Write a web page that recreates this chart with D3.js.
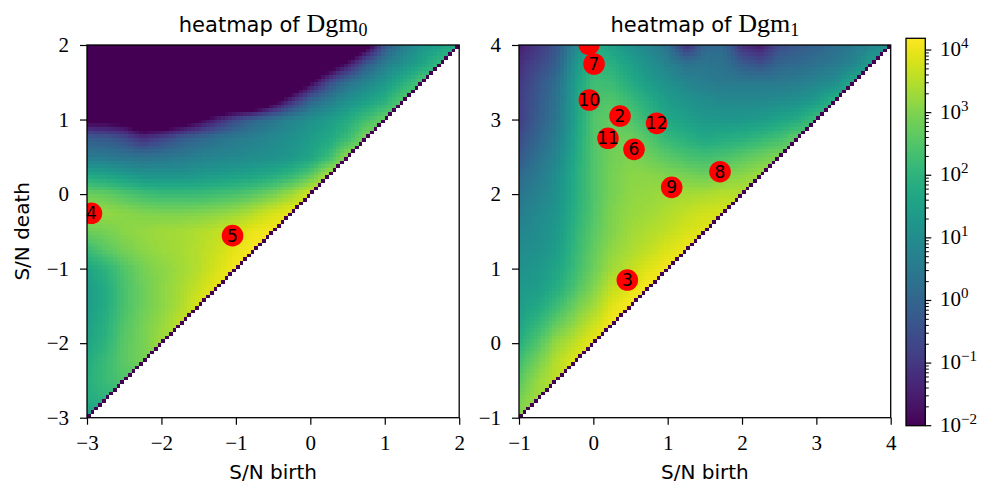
<!DOCTYPE html>
<html>
<head>
<meta charset="utf-8">
<script src="https://cdn.jsdelivr.net/npm/d3@7"></script>
<style>
  body { margin: 0; background: #fff; }
</style>
</head>
<body>
<svg id="chart" width="985" height="483"></svg>
<script>
// ---- data -------------------------------------------------------------
// log10 density on a 0.25 grid; row k is death = top - 0.25k,
// values run from the left edge (birth = min) up to the diagonal.
const gridStep = 0.25;
const cellStep = 0.05;

const dgm0Extent = [-3, 2];
const dgm0LogDensity = [
  [-4,-4,-4,-4,-4,-4,-4,-4,-4,-4,-4,-4,-4,-4,-4,-2.5,-0.4,0.6,1.2,1.5,1.8],
  [-4,-4,-4,-4,-4,-4,-4,-4,-4,-4,-4,-4,-4,-3,-1.7,-0.3,0.6,1.1,1.6,2.2],
  [-4,-4,-4,-4,-4,-4,-4,-4,-4,-4,-4,-3.5,-2.1,-0.6,0.3,0.8,1.3,1.9,2.5],
  [-4,-4,-4,-4,-4,-4,-4,-4,-4,-4,-2.5,-1.2,0.0,0.6,1.1,1.5,1.9,2.6],
  [-2.4,-2.4,-2.6,-3.5,-3.5,-3.0,-2.2,-1.4,-0.6,0.0,0.4,0.8,1.1,1.4,1.8,2.3,2.8],
  [-0.2,-0.3,-0.6,-1.2,-0.8,-0.3,0.0,0.3,0.5,0.7,0.9,1.1,1.4,1.7,2.2,3.0],
  [0.5,0.5,0.4,0.3,0.4,0.5,0.7,0.8,0.9,1.0,1.1,1.3,1.6,2.2,3.2],
  [1.7,1.6,1.4,1.2,1.2,1.2,1.3,1.4,1.5,1.6,1.8,2.1,2.6,3.5],
  [2.8,2.7,2.5,2.3,2.2,2.2,2.2,2.3,2.4,2.6,2.9,3.3,3.85],
  [3.2,3.2,3.1,3.0,2.95,2.95,3.0,3.1,3.25,3.5,3.8,4.0],
  [2.8,2.9,3.1,3.2,3.3,3.35,3.45,3.6,3.8,4.0,4.1],
  [2.2,2.6,2.9,3.1,3.25,3.35,3.5,3.7,3.95,4.15],
  [1.6,2.0,2.5,2.9,3.1,3.3,3.5,3.8,4.1],
  [1.4,1.8,2.4,2.8,3.1,3.35,3.65,4.0],
  [1.4,1.8,2.4,2.8,3.1,3.4,3.85],
  [1.5,1.9,2.5,2.9,3.2,3.6],
  [1.6,2.0,2.6,2.9,3.3],
  [1.8,2.2,2.6,2.9],
  [1.9,2.2,2.5],
  [1.8,2.0],
  [1.4]
];

const dgm1Extent = [-1, 4];
const dgm1LogDensity = [
  [-1.5,-1.0,-0.4,0.8,1.8,1.5,1.1,0.8,0.3,-1.2,0.0,0.1,-1.2,-1.6,-0.6,-0.3,-0.1,0.2,0.5,0.8,1.2],
  [-1.2,-0.7,-0.2,1.2,2.1,1.9,1.5,1.1,0.7,0.3,0.4,0.3,-0.2,-0.5,0.0,0.1,0.3,0.5,0.8,1.5],
  [-1.0,-0.4,0.2,1.4,2.3,2.2,1.8,1.4,1.1,0.8,0.6,0.5,0.5,0.5,0.5,0.6,0.8,1.0,1.8],
  [-0.9,-0.3,0.3,1.5,2.4,2.5,2.2,1.8,1.4,1.2,1.0,0.9,0.9,0.9,1.0,1.1,1.4,2.0],
  [-0.9,-0.2,0.4,1.5,2.5,2.7,2.5,2.1,1.7,1.5,1.3,1.3,1.3,1.4,1.6,1.8,2.3],
  [-0.6,0.0,0.6,1.6,2.5,2.8,2.8,2.5,2.1,1.9,1.7,1.8,1.9,2.1,2.3,2.7],
  [-0.3,0.3,0.8,1.7,2.5,2.85,3.0,2.8,2.6,2.4,2.3,2.4,2.6,2.8,3.0],
  [0.1,0.5,1.0,1.8,2.5,2.9,3.1,3.1,3.0,2.9,2.8,3.0,3.1,3.3],
  [0.4,0.7,1.1,1.8,2.5,2.9,3.15,3.2,3.3,3.35,3.4,3.5,3.5],
  [0.6,0.9,1.2,1.9,2.5,3.0,3.2,3.3,3.45,3.6,3.75,3.8],
  [0.8,1.0,1.3,2.0,2.6,3.0,3.3,3.45,3.6,3.8,3.9],
  [1.0,1.1,1.4,2.1,2.7,3.15,3.4,3.6,3.85,4.05],
  [1.1,1.3,1.6,2.2,2.8,3.3,3.6,3.9,4.1],
  [1.3,1.4,1.8,2.4,3.0,3.6,3.9,4.15],
  [1.4,1.7,2.2,2.8,3.3,3.9,4.15],
  [1.6,2.1,2.7,3.2,3.7,4.1],
  [1.9,2.5,3.2,3.6,4.0],
  [2.3,2.9,3.5,3.9],
  [2.6,3.2,3.6],
  [2.9,3.3],
  [3.1]
];

// highlighted diagram points
const dgm0Labels = ["4", "5"];
const dgm0Birth  = [-2.94, -1.045];
const dgm0Death  = [-0.258, -0.558];

const dgm1Labels = ["1", "2", "3", "6", "7", "8", "9", "10", "11", "12"];
const dgm1Birth  = [-0.058, 0.359, 0.457, 0.547, 0.009, 1.704, 1.054, -0.054, 0.197, 0.852];
const dgm1Death  = [4.01, 3.047, 0.847, 2.60, 3.745, 2.30, 2.09, 3.262, 2.748, 2.949];

const dgm0Ticks = [-3, -2, -1, 0, 1, 2];
const dgm1Ticks = [-1, 0, 1, 2, 3, 4];

const colorMin = 1e-2;
const colorMax = 1.54e4;
const colorTicks = [1e-2, 1e-1, 1e0, 1e1, 1e2, 1e3, 1e4];
const colorTickExponents = ["−2", "−1", "0", "1", "2", "3", "4"];

// ---- setup ------------------------------------------------------------
const svg = d3.select("#chart");
const color = d3.scaleSequentialLog(d3.interpolateViridis)
  .domain([colorMin, colorMax]).clamp(true);

const SERIF = '"Liberation Serif", "DejaVu Serif", serif';
const SANS = '"DejaVu Sans", sans-serif';
const fmtTick = d => d < 0 ? "\u2212" + Math.abs(d) : String(d);

const panels = [
  { id: "p0", extent: dgm0Extent, grid: dgm0LogDensity, ticks: dgm0Ticks,
    left: 87, right: 459.2, sub: "0",
    labels: dgm0Labels, birth: dgm0Birth, death: dgm0Death, ylabel: true },
  { id: "p1", extent: dgm1Extent, grid: dgm1LogDensity, ticks: dgm1Ticks,
    left: 519, right: 890.7, sub: "1",
    labels: dgm1Labels, birth: dgm1Birth, death: dgm1Death, ylabel: false }
];
const plotTop = 45, plotBottom = 417.7;

function sampleGrid(tex, gx, gy) {
  const n = tex.length;
  const cx = Math.min(Math.max(gx, 0), n - 1);
  const cy = Math.min(Math.max(gy, 0), n - 1);
  const x0 = Math.min(Math.floor(cx), n - 2);
  const y0 = Math.min(Math.floor(cy), n - 2);
  const fx = cx - x0, fy = cy - y0;
  return (tex[y0][x0] * (1 - fx) + tex[y0][x0 + 1] * fx) * (1 - fy) +
         (tex[y0 + 1][x0] * (1 - fx) + tex[y0 + 1][x0 + 1] * fx) * fy;
}

function heatmapImage(grid, extent) {
  const n = grid.length;
  // below the diagonal the row's diagonal value is carried over
  const tex = grid.map(row => d3.range(n).map(c => c < row.length ? row[c] : row[row.length - 1]));
  const N = Math.round((extent[1] - extent[0]) / cellStep);
  const ratio = cellStep / gridStep;
  const canvas = document.createElement("canvas");
  canvas.width = N; canvas.height = N;
  const ctx = canvas.getContext("2d");
  const img = ctx.createImageData(N, N);
  const diag = d3.rgb(d3.interpolateViridis(0));
  for (let i = 0; i < N; i++) {
    const rb = N - 1 - i;
    for (let j = 0; j < N; j++) {
      const k = (i * N + j) * 4;
      if (rb < j) { img.data[k + 3] = 0; continue; }
      let c;
      if (rb === j) c = diag;
      else c = d3.rgb(color(Math.pow(10, sampleGrid(tex, (j + 0.5) * ratio, (i + 0.5) * ratio))));
      img.data[k] = c.r; img.data[k + 1] = c.g; img.data[k + 2] = c.b; img.data[k + 3] = 255;
    }
  }
  ctx.putImageData(img, 0, 0);
  return canvas.toDataURL();
}

panels.forEach(p => {
  const x = d3.scaleLinear().domain(p.extent).range([p.left, p.right]);
  const y = d3.scaleLinear().domain(p.extent).range([plotBottom, plotTop]);
  const g = svg.append("g");

  g.append("clipPath").attr("id", "clip-" + p.id)
    .append("rect").attr("x", p.left).attr("y", plotTop)
    .attr("width", p.right - p.left).attr("height", plotBottom - plotTop);

  g.append("image")
    .attr("href", heatmapImage(p.grid, p.extent))
    .attr("x", x(p.extent[0])).attr("y", y(p.extent[1]))
    .attr("width", x(p.extent[1]) - x(p.extent[0]))
    .attr("height", y(p.extent[0]) - y(p.extent[1]))
    .attr("preserveAspectRatio", "none")
    .style("image-rendering", "pixelated");

  // points
  const idx = d3.range(p.labels.length);
  g.append("g").attr("clip-path", "url(#clip-" + p.id + ")")
    .selectAll("circle").data(idx).join("circle")
    .attr("cx", i => x(p.birth[i])).attr("cy", i => y(p.death[i]))
    .attr("r", 10.8).attr("fill", "#ff0000");
  const inside = i => p.birth[i] >= p.extent[0] && p.birth[i] <= p.extent[1] &&
                      p.death[i] >= p.extent[0] && p.death[i] <= p.extent[1];
  g.append("g").selectAll("text").data(idx.filter(inside)).join("text")
    .style("font-family", SANS).style("font-size", "17px")
    .attr("x", i => x(p.birth[i])).attr("y", i => y(p.death[i]) + 6)
    .attr("text-anchor", "middle").attr("fill", "#000")
    .text(i => p.labels[i]);

  // axes
  const ax = g.append("g").attr("transform", `translate(0,${plotBottom})`)
    .call(d3.axisBottom(x).tickValues(p.ticks).tickSize(7).tickPadding(10).tickFormat(fmtTick));
  const ay = g.append("g").attr("transform", `translate(${p.left},0)`)
    .call(d3.axisLeft(y).tickValues(p.ticks).tickSize(7).tickPadding(11).tickFormat(fmtTick));
  [ax, ay].forEach(a => {
    a.attr("font-family", null).attr("font-size", null);
    a.select(".domain").remove();
    a.selectAll("line").attr("stroke", "#000").attr("stroke-width", 1.2);
    a.selectAll("text").style("font-family", SERIF).style("font-size", "21px").attr("fill", "#000");
  });

  g.append("rect").attr("x", p.left).attr("y", plotTop)
    .attr("width", p.right - p.left).attr("height", plotBottom - plotTop)
    .attr("fill", "none").attr("stroke", "#000").attr("stroke-width", 1.3);

  // title
  const cx = (p.left + p.right) / 2;
  const t = g.append("text").attr("x", cx).attr("y", 31.5).attr("text-anchor", "middle").attr("fill", "#000");
  t.append("tspan").style("font-family", SANS).style("font-size", "21px").text("heatmap of ");
  t.append("tspan").style("font-family", SERIF).style("font-size", "26px").text("Dgm");
  t.append("tspan").style("font-family", SERIF).style("font-size", "18px").attr("dy", 4).text(p.sub);

  g.append("text").style("font-family", SANS).style("font-size", "20px")
    .attr("x", cx).attr("y", 479)
    .attr("text-anchor", "middle").attr("fill", "#000").text("S/N birth");
  if (p.ylabel) {
    g.append("text").style("font-family", SANS).style("font-size", "20px")
      .attr("transform", `translate(29,${(plotTop + plotBottom) / 2}) rotate(-90)`)
      .attr("text-anchor", "middle").attr("fill", "#000").text("S/N death");
  }
});

// ---- colorbar ---------------------------------------------------------
const cbLeft = 906, cbWidth = 19.3, cbTop = 38.3, cbBottom = 425.7;
const cbY = d3.scaleLog().domain([colorMin, colorMax]).range([cbBottom, cbTop]);
const grad = svg.append("defs").append("linearGradient").attr("id", "cbgrad")
  .attr("x1", 0).attr("y1", 1).attr("x2", 0).attr("y2", 0);
d3.range(0, 1.0001, 0.02).forEach(t => {
  grad.append("stop").attr("offset", t).attr("stop-color", d3.interpolateViridis(t));
});
svg.append("rect").attr("x", cbLeft).attr("y", cbTop).attr("width", cbWidth)
  .attr("height", cbBottom - cbTop).attr("fill", "url(#cbgrad)");

const minor = [];
for (let e = -2; e <= 4; e++) for (let m = 2; m <= 9; m++) {
  const v = m * Math.pow(10, e);
  if (v <= colorMax) minor.push(v);
}
const cbx = cbLeft + cbWidth;
svg.append("g").selectAll("line").data(minor).join("line")
  .attr("x1", cbx).attr("x2", cbx + 3.5).attr("y1", d => cbY(d)).attr("y2", d => cbY(d))
  .attr("stroke", "#000").attr("stroke-width", 1);
svg.append("g").selectAll("line").data(colorTicks).join("line")
  .attr("x1", cbx).attr("x2", cbx + 6).attr("y1", d => cbY(d)).attr("y2", d => cbY(d))
  .attr("stroke", "#000").attr("stroke-width", 1.2);
const lab = svg.append("g").selectAll("text").data(colorTicks).join("text")
  .style("font-family", SERIF).style("font-size", "21px")
  .attr("x", 940).attr("y", d => cbY(d) + 6).attr("fill", "#000");
lab.append("tspan").text("10");
lab.append("tspan").style("font-size", "15px").attr("dy", -8)
  .text((d, i) => colorTickExponents[i]);
svg.append("rect").attr("x", cbLeft).attr("y", cbTop).attr("width", cbWidth)
  .attr("height", cbBottom - cbTop).attr("fill", "none")
  .attr("stroke", "#000").attr("stroke-width", 1.3);
</script>
</body>
</html>
